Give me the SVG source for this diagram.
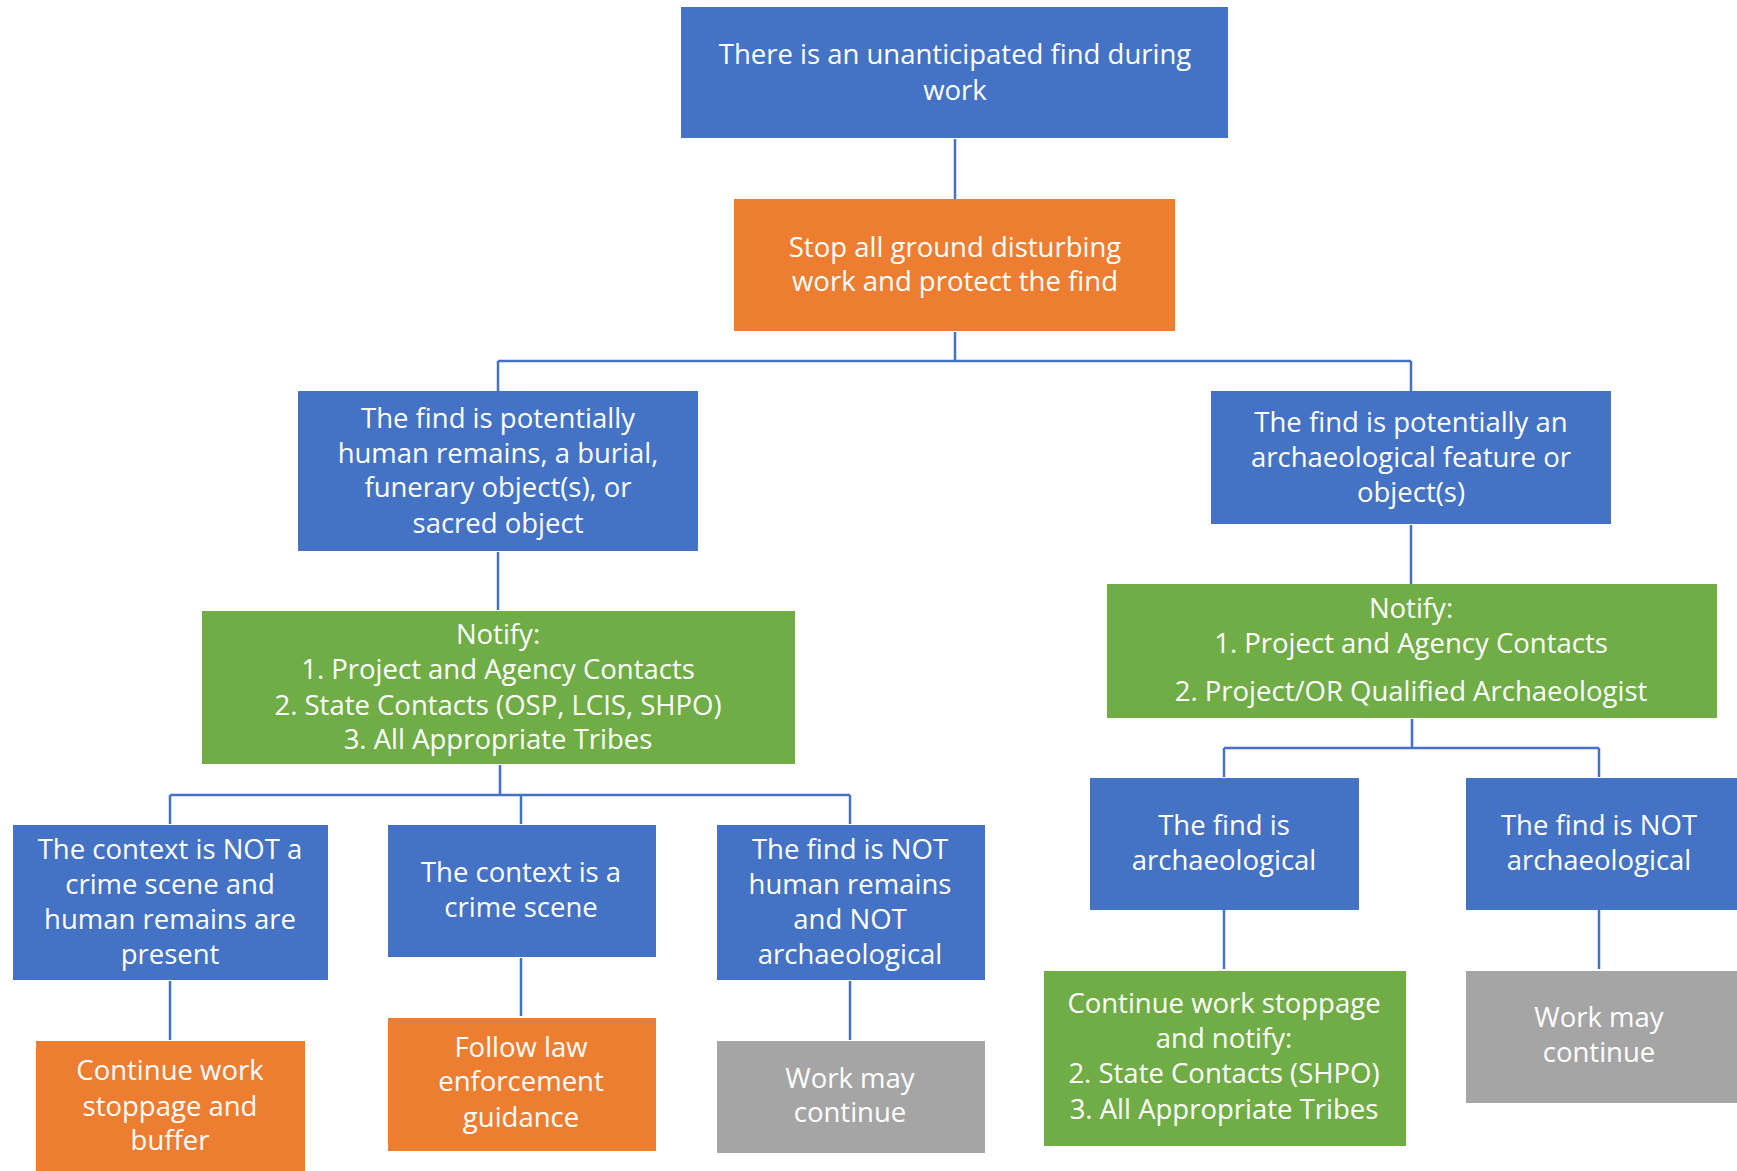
<svg xmlns="http://www.w3.org/2000/svg" width="1737" height="1171" viewBox="0 0 1737 1171">
<style>
.b{fill:#4472C4}.o{fill:#ED7D31}.g{fill:#70AD47}.y{fill:#A5A5A5}
text{font-family:"Open Sans","Noto Sans",sans-serif;font-size:27.5px;fill:#fff;text-anchor:middle}
.c{fill:none;stroke:#4472C4;stroke-width:2.5}
</style>
<rect width="1737" height="1171" fill="#fff"/>
<g id="connectors">
<path class="c" d="M955 139V199"/>
<path class="c" d="M955 332V361M498 361H1411M498 361V391M1411 361V391"/>
<path class="c" d="M498 552V610"/>
<path class="c" d="M1411 525V584"/>
<path class="c" d="M500 765V795M170 795H850M170 795V824M521 795V824M850 795V824"/>
<path class="c" d="M170 981V1040M521 958V1016M850 981V1040"/>
<path class="c" d="M1412 719V748M1224 748H1599M1224 748V777M1599 748V777"/>
<path class="c" d="M1224 910V969M1599 910V969"/>
</g>
<g id="n1"><rect class="b" x="681" y="7" width="547" height="131"/>
<text x="955" y="64">There is an unanticipated find during</text><text x="955" y="100">work</text></g>
<g id="n2"><rect class="o" x="734" y="199" width="441" height="132"/>
<text x="955" y="257">Stop all ground disturbing</text><text x="955" y="291">work and protect the find</text></g>
<g id="n3"><rect class="b" x="298" y="391" width="400" height="160"/>
<text x="498" y="428">The find is potentially</text><text x="498" y="463">human remains, a burial,</text><text x="498" y="497">funerary object(s), or</text><text x="498" y="533">sacred object</text></g>
<g id="n4"><rect class="b" x="1211" y="391" width="400" height="133"/>
<text x="1411" y="432">The find is potentially an</text><text x="1411" y="467">archaeological feature or</text><text x="1411" y="502">object(s)</text></g>
<g id="n5"><rect class="g" x="202" y="611" width="593" height="153"/>
<text x="498" y="644">Notify:</text><text x="498" y="679">1. Project and Agency Contacts</text><text x="498" y="715">2. State Contacts (OSP, LCIS, SHPO)</text><text x="498" y="749">3. All Appropriate Tribes</text></g>
<g id="n6"><rect class="g" x="1107" y="584" width="610" height="134"/>
<text x="1411" y="618">Notify:</text><text x="1411" y="653">1. Project and Agency Contacts</text><text x="1411" y="701">2. Project/OR Qualified Archaeologist</text></g>
<g id="n7"><rect class="b" x="13" y="825" width="315" height="155"/>
<text x="170" y="859">The context is NOT a</text><text x="170" y="894">crime scene and</text><text x="170" y="929">human remains are</text><text x="170" y="964">present</text></g>
<g id="n8"><rect class="b" x="388" y="825" width="268" height="132"/>
<text x="521" y="882">The context is a</text><text x="521" y="917">crime scene</text></g>
<g id="n9"><rect class="b" x="717" y="825" width="268" height="155"/>
<text x="850" y="859">The find is NOT</text><text x="850" y="894">human remains</text><text x="850" y="929">and NOT</text><text x="850" y="964">archaeological</text></g>
<g id="n10"><rect class="o" x="36" y="1041" width="269" height="140"/>
<text x="170" y="1080">Continue work</text><text x="170" y="1116">stoppage and</text><text x="170" y="1150">buffer</text></g>
<g id="n11"><rect class="o" x="388" y="1018" width="268" height="133"/>
<text x="521" y="1057">Follow law</text><text x="521" y="1091">enforcement</text><text x="521" y="1127">guidance</text></g>
<g id="n12"><rect class="y" x="717" y="1041" width="268" height="112"/>
<text x="850" y="1088">Work may</text><text x="850" y="1122">continue</text></g>
<g id="n13"><rect class="b" x="1090" y="778" width="269" height="132"/>
<text x="1224" y="835">The find is</text><text x="1224" y="870">archaeological</text></g>
<g id="n14"><rect class="b" x="1466" y="778" width="271" height="132"/>
<text x="1599" y="835">The find is NOT</text><text x="1599" y="870">archaeological</text></g>
<g id="n15"><rect class="g" x="1044" y="971" width="362" height="175"/>
<text x="1224" y="1013">Continue work stoppage</text><text x="1224" y="1048">and notify:</text><text x="1224" y="1083">2. State Contacts (SHPO)</text><text x="1224" y="1119">3. All Appropriate Tribes</text></g>
<g id="n16"><rect class="y" x="1466" y="971" width="271" height="132"/>
<text x="1599" y="1027">Work may</text><text x="1599" y="1062">continue</text></g>
</svg>
